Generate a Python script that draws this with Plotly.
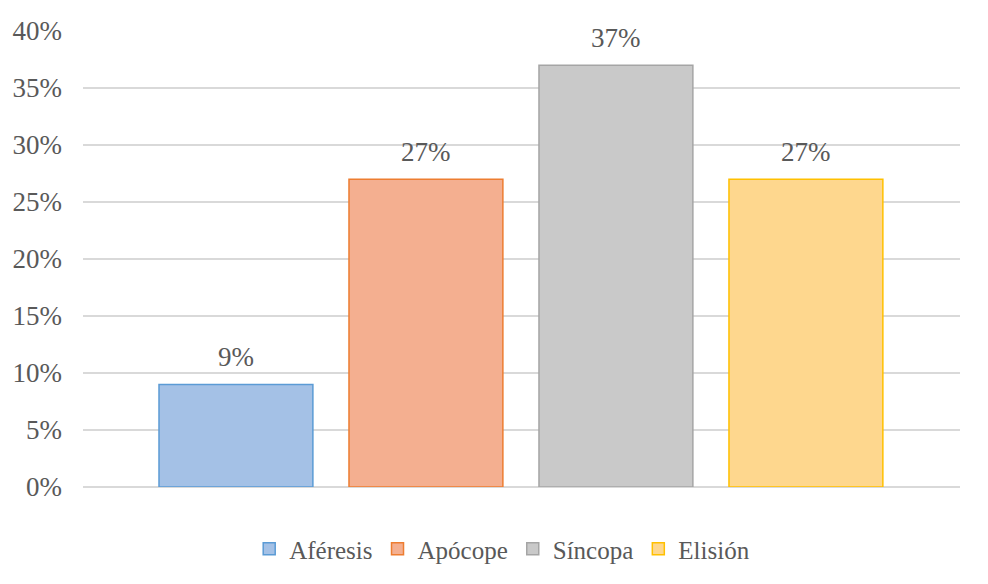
import plotly.graph_objects as go

series = ["Aféresis", "Apócope", "Síncopa", "Elisión"]
values = [9, 27, 37, 27]
fills = ["#a4c1e6", "#f4af90", "#c9c9c9", "#fed78e"]
borders = ["#5b9bd5", "#ed7d31", "#a5a5a5", "#ffc000"]

font = "Liberation Serif, Times New Roman, serif"
gray = "#595959"

fig = go.Figure()
for i, (name, v, f, b) in enumerate(zip(series, values, fills, borders)):
    fig.add_trace(go.Bar(
        x=[i], y=[v], name=name, width=0.81,
        marker=dict(color=f, line=dict(color=b, width=1.5)),
        hovertemplate=f"{name}: %{{y}}%<extra></extra>",
    ))
    fig.add_annotation(x=i, y=v, text=f"{v}%", showarrow=False,
                       yanchor="bottom", yshift=10,
                       font=dict(family=font, size=27, color=gray))

fig.update_layout(
    width=988, height=584,
    margin=dict(l=75, r=36, t=23, b=105),
    paper_bgcolor="white", plot_bgcolor="white",
    font=dict(family=font, size=27, color=gray),
    showlegend=True,
    legend=dict(orientation="h", x=0.478, xanchor="center", y=-0.136, yanchor="middle",
                font=dict(family=font, size=25, color=gray), itemwidth=30,
                tracegroupgap=0, traceorder="normal"),
)
fig.update_xaxes(range=[-0.805, 3.811], showticklabels=False, showgrid=False,
                 zeroline=False, showline=False)
fig.update_yaxes(range=[0, 40], dtick=5, ticksuffix="%", showgrid=True,
                 gridcolor="#d9d9d9", gridwidth=1.5, zeroline=True,
                 zerolinecolor="#d9d9d9", zerolinewidth=1.5,
                 tickfont=dict(family=font, size=27, color=gray), ticks="",
                 ticklabelstandoff=20, automargin=False)

fig.write_html("out.html")
